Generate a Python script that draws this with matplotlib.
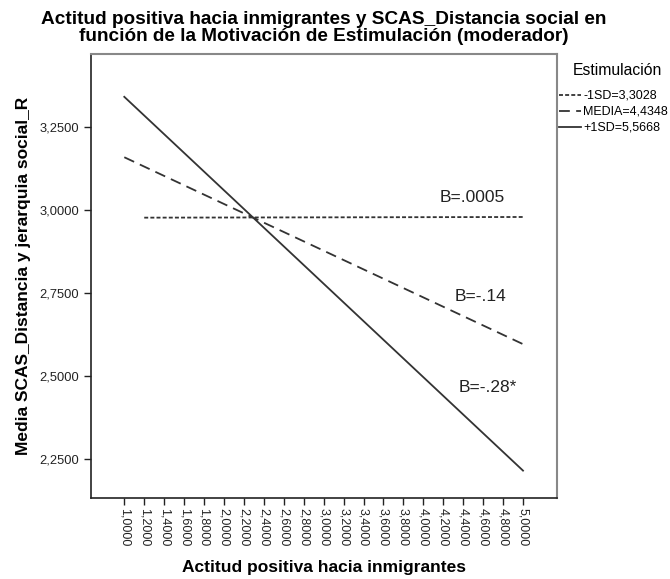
import matplotlib
matplotlib.use("Agg")
import matplotlib.pyplot as plt
from matplotlib.ticker import FuncFormatter
import numpy as np

plt.rcParams['font.family'] = ['Liberation Sans', 'DejaVu Sans']

# Data
x_low = [1.2, 5.0]
y_low = [2.977, 2.979]
x_mid = [1.0, 5.0]
y_mid = [3.159, 2.596]
x_high = [1.0, 5.0]
y_high = [3.341, 2.215]

series_labels = ['-1SD=3,3028', 'MEDIA=4,4348', '+1SD=5,5668']
slope_labels = ['B=.0005', 'B=-.14', 'B=-.28*']
slope_pos = [(4.49, 3.039), (4.57, 2.741), (4.65, 2.464)]

x_ticks = np.round(np.arange(1.0, 5.0001, 0.2), 1)
y_ticks = [2.25, 2.5, 2.75, 3.0, 3.25]

line_col = '#333333'

fig = plt.figure(figsize=(6.7, 5.79), dpi=100)
ax = fig.add_axes([91 / 670, 1 - 498 / 579, (557 - 91) / 670, (498 - 54) / 579])

l1, = ax.plot(x_low, y_low, color=line_col, lw=1.3, dashes=(2.2, 1.2), label=series_labels[0])
l2, = ax.plot(x_mid, y_mid, color=line_col, lw=1.3, dashes=(6, 3.5), label=series_labels[1])
l3, = ax.plot(x_high, y_high, color=line_col, lw=1.3, label=series_labels[2])

for txt, (tx, ty) in zip(slope_labels, slope_pos):
    ax.text(tx, ty, txt, ha='center', va='center', fontsize=12.5, color='#222222')

ax.set_xlim(0.666, 5.341)
ax.set_ylim(2.1325, 3.470)
ax.set_xticks(x_ticks)
ax.set_yticks(y_ticks)

fmt = FuncFormatter(lambda v, p: f"{v:.4f}".replace('.', ','))
ax.xaxis.set_major_formatter(fmt)
ax.yaxis.set_major_formatter(fmt)
ax.tick_params(axis='both', direction='out', length=5, width=1, labelsize=9, colors='#222222')
ax.tick_params(axis='x', pad=2)
ax.tick_params(axis='y', labelsize=9.3)
plt.setp(ax.get_xticklabels(), rotation=-90)

for side in ['left', 'bottom']:
    ax.spines[side].set_color('#222222')
    ax.spines[side].set_linewidth(1.2)
for side in ['top', 'right']:
    ax.spines[side].set_color('#888888')
    ax.spines[side].set_linewidth(1.5)

ax.set_xlabel('Actitud positiva hacia inmigrantes', fontsize=12.5, fontweight='bold', labelpad=10)
ax.set_ylabel('Media SCAS_Distancia y jerarquia social_R', fontsize=12.5, fontweight='bold', labelpad=6)

fig.text(324 / 670, 1 - 28 / 579,
         'Actitud positiva hacia inmigrantes y SCAS_Distancia social en\n'
         'función de la Motivación de Estimulación (moderador)',
         ha='center', va='center', fontsize=13.7, fontweight='bold', linespacing=0.95)

# legend: title as its own text so the gap to the entries matches
fig.text(617 / 670, 1 - 70 / 579, 'Estimulación', ha='center', va='center', fontsize=11.3)
leg = fig.legend(handles=[l1, l2, l3], loc='upper left', bbox_to_anchor=(559 / 670, 1 - 90 / 579),
                 frameon=False, fontsize=9, handlelength=1.75, handletextpad=0.2,
                 labelspacing=0.32, borderaxespad=0, borderpad=0.0)

fig.savefig('out.png', dpi=100)
